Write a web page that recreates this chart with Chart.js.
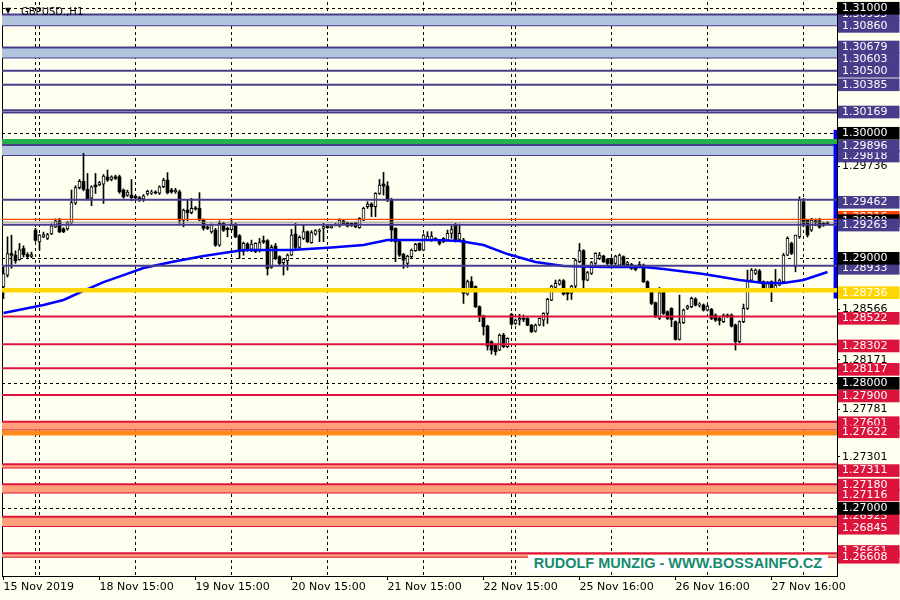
<!DOCTYPE html>
<html>
<head>
<meta charset="utf-8">
<script src="https://cdn.jsdelivr.net/npm/chart.js@4.4.0/dist/chart.umd.min.js"></script>
<style>
  body { margin: 0; background: #fffff0; }
  #wrap { position: relative; width: 900px; height: 600px; }
  #tri { position: absolute; left: 5px; top: 6px; font: 8px "DejaVu Sans"; color: #000; }
  #title { position: absolute; left: 21px; top: 6px; font: 10px "DejaVu Sans"; color: #000; }
  #mark { position: absolute; left: 528px; top: 555px; width: 300px; height: 17px; background: #fff;
          color: #168c6c; font: bold 14.5px "Liberation Sans"; text-align: center; line-height: 17px; }
</style>
</head>
<body>
<div id="wrap">
  <canvas id="chart" width="900" height="600"></canvas>
  <div id="tri">▼</div>
  <div id="title">GBPUSD.,H1</div>
  <div id="mark">RUDOLF MUNZIG - WWW.BOSSAINFO.CZ</div>
</div>
<script>
// H1 candles, bar 0 .. 206
const opens = [
  1.28771,1.28865,1.29038,1.29025,1.28990,1.29078,1.29030,1.29015,1.29225,1.29132,
  1.29172,1.29160,1.29195,1.29250,1.29300,1.29235,1.29235,1.29285,1.29440,1.29565,
  1.29615,1.29552,1.29480,1.29586,1.29586,1.29592,1.29650,1.29630,1.29652,1.29652,
  1.29546,1.29505,1.29505,1.29495,1.29485,1.29475,1.29515,1.29520,1.29530,1.29520,
  1.29572,1.29626,1.29546,1.29530,1.29532,1.29306,1.29386,1.29365,1.29400,1.29400,
  1.29306,1.29250,1.29212,1.29225,1.29105,1.29279,1.29240,1.29230,1.29270,1.29180,
  1.29055,1.29115,1.29071,1.29053,1.29060,1.29141,1.29141,1.28927,1.29098,1.29013,
  1.28965,1.28981,1.29026,1.29194,1.29087,1.29159,1.29213,1.29125,1.29194,1.29215,
  1.29239,1.29258,1.29245,1.29262,1.29258,1.29298,1.29285,1.29261,1.29285,1.29245,
  1.29306,1.29413,1.29434,1.29413,1.29519,1.29594,1.29578,1.29471,1.29239,1.29133,
  1.29031,1.28959,1.29013,1.29061,1.29119,1.29066,1.29146,1.29141,1.29159,1.29133,
  1.29133,1.29146,1.29199,1.29266,1.29151,1.29146,1.28714,1.28813,1.28773,1.28613,
  1.28538,1.28458,1.28333,1.28306,1.28266,1.28386,1.28293,1.28551,1.28479,1.28506,
  1.28519,1.28519,1.28466,1.28418,1.28466,1.28506,1.28559,1.28666,1.28767,1.28794,
  1.28821,1.28741,1.28719,1.28778,1.28973,1.29061,1.28826,1.28879,1.28959,1.28999,
  1.29018,1.28991,1.28999,1.28959,1.28946,1.29013,1.28949,1.28951,1.28938,1.28933,
  1.28946,1.28813,1.28751,1.28645,1.28519,1.28733,1.28573,1.28599,1.28493,1.28351,
  1.28485,1.28599,1.28613,1.28674,1.28626,1.28626,1.28586,1.28591,1.28546,1.28519,
  1.28493,1.28546,1.28546,1.28466,1.28333,1.28493,1.28599,1.28826,1.28879,1.28898,
  1.28813,1.28746,1.28813,1.28751,1.28786,1.28813,1.29026,1.29119,1.28932,1.29172,
  1.29452,1.29306,1.29225,1.29300,1.29300,1.29280,1.29285
];
const highs = [
  1.28932,1.29172,1.29185,1.29060,1.29119,1.29100,1.29045,1.29050,1.29240,1.29190,
  1.29210,1.29200,1.29275,1.29315,1.29320,1.29245,1.29295,1.29546,1.29580,1.29630,
  1.29839,1.29679,1.29580,1.29679,1.29615,1.29670,1.29706,1.29660,1.29665,1.29665,
  1.29555,1.29545,1.29630,1.29505,1.29495,1.29510,1.29545,1.29545,1.29540,1.29580,
  1.29640,1.29685,1.29560,1.29560,1.29545,1.29395,1.29466,1.29480,1.29415,1.29525,
  1.29315,1.29260,1.29275,1.29240,1.29300,1.29290,1.29250,1.29306,1.29280,1.29190,
  1.29130,1.29125,1.29146,1.29125,1.29159,1.29178,1.29150,1.29106,1.29119,1.29020,
  1.29000,1.29035,1.29231,1.29279,1.29180,1.29266,1.29220,1.29221,1.29230,1.29235,
  1.29279,1.29265,1.29265,1.29279,1.29315,1.29310,1.29290,1.29285,1.29290,1.29325,
  1.29410,1.29453,1.29445,1.29525,1.29631,1.29687,1.29613,1.29480,1.29245,1.29140,
  1.29040,1.29025,1.29075,1.29120,1.29125,1.29195,1.29213,1.29213,1.29165,1.29140,
  1.29165,1.29226,1.29260,1.29279,1.29274,1.29160,1.28826,1.28853,1.28780,1.28620,
  1.28545,1.28465,1.28340,1.28315,1.28395,1.28400,1.28365,1.28560,1.28515,1.28553,
  1.28546,1.28525,1.28470,1.28475,1.28525,1.28565,1.28680,1.28785,1.28826,1.28830,
  1.28830,1.28750,1.28785,1.28995,1.29119,1.29070,1.28895,1.28975,1.29045,1.29047,
  1.29025,1.29000,1.29005,1.29025,1.29035,1.29020,1.28975,1.28960,1.28945,1.28973,
  1.28955,1.28820,1.28760,1.28650,1.28767,1.28740,1.28580,1.28605,1.28500,1.28706,
  1.28595,1.28625,1.28690,1.28685,1.28645,1.28635,1.28625,1.28600,1.28555,1.28528,
  1.28555,1.28555,1.28555,1.28475,1.28500,1.28634,1.28906,1.28919,1.28915,1.28911,
  1.28820,1.28815,1.28820,1.28911,1.28835,1.29039,1.29172,1.29130,1.29186,1.29492,
  1.29479,1.29310,1.29320,1.29315,1.29320,1.29290,1.29295
];
const lows = [
  1.28678,1.28850,1.28920,1.28960,1.28985,1.29010,1.29000,1.29005,1.29135,1.29065,
  1.29165,1.29150,1.29190,1.29245,1.29205,1.29205,1.29225,1.29280,1.29430,1.29555,
  1.29540,1.29466,1.29420,1.29519,1.29580,1.29439,1.29615,1.29620,1.29630,1.29520,
  1.29480,1.29495,1.29460,1.29475,1.29455,1.29455,1.29505,1.29510,1.29515,1.29510,
  1.29565,1.29515,1.29520,1.29520,1.29279,1.29252,1.29300,1.29355,1.29385,1.29300,
  1.29225,1.29230,1.29200,1.29095,1.29095,1.29215,1.29172,1.29225,1.29165,1.28998,
  1.29025,1.29055,1.29053,1.29045,1.29050,1.29119,1.28866,1.28920,1.28990,1.28950,
  1.28866,1.28906,1.29020,1.29066,1.29080,1.29150,1.29125,1.29120,1.29185,1.29133,
  1.29133,1.29240,1.29240,1.29258,1.29250,1.29270,1.29250,1.29255,1.29245,1.29240,
  1.29300,1.29399,1.29333,1.29333,1.29510,1.29506,1.29453,1.29133,1.28973,1.29015,
  1.28919,1.28927,1.29005,1.29055,1.29060,1.29060,1.29140,1.29135,1.29140,1.29106,
  1.29125,1.29140,1.29160,1.29130,1.29140,1.28639,1.28705,1.28760,1.28605,1.28493,
  1.28386,1.28266,1.28234,1.28226,1.28261,1.28285,1.28285,1.28465,1.28470,1.28466,
  1.28493,1.28460,1.28405,1.28410,1.28460,1.28458,1.28479,1.28660,1.28760,1.28785,
  1.28705,1.28666,1.28671,1.28759,1.28965,1.28759,1.28820,1.28870,1.28950,1.28990,
  1.28965,1.28950,1.28945,1.28950,1.28933,1.28940,1.28940,1.28910,1.28900,1.28925,
  1.28805,1.28735,1.28630,1.28525,1.28510,1.28550,1.28510,1.28453,1.28346,1.28345,
  1.28478,1.28590,1.28605,1.28618,1.28610,1.28578,1.28578,1.28510,1.28495,1.28466,
  1.28485,1.28525,1.28450,1.28266,1.28325,1.28485,1.28590,1.28820,1.28870,1.28805,
  1.28740,1.28740,1.28653,1.28745,1.28780,1.28800,1.29020,1.29030,1.28892,1.29160,
  1.29252,1.29170,1.29215,1.29260,1.29240,1.29255,1.29270
];
const closes = [
  1.28878,1.29038,1.29025,1.28980,1.29070,1.29030,1.29015,1.29030,1.29145,1.29185,
  1.29190,1.29190,1.29260,1.29300,1.29212,1.29212,1.29285,1.29445,1.29565,1.29615,
  1.29552,1.29472,1.29572,1.29572,1.29605,1.29658,1.29626,1.29652,1.29640,1.29532,
  1.29492,1.29530,1.29485,1.29485,1.29470,1.29500,1.29535,1.29530,1.29522,1.29572,
  1.29626,1.29525,1.29532,1.29546,1.29306,1.29386,1.29365,1.29400,1.29395,1.29306,
  1.29240,1.29240,1.29265,1.29105,1.29279,1.29225,1.29230,1.29265,1.29172,1.29065,
  1.29119,1.29065,1.29114,1.29119,1.29125,1.29130,1.28919,1.29087,1.28999,1.28959,
  1.28994,1.29026,1.29186,1.29087,1.29167,1.29213,1.29133,1.29205,1.29221,1.29226,
  1.29253,1.29245,1.29258,1.29269,1.29306,1.29279,1.29258,1.29279,1.29253,1.29319,
  1.29399,1.29434,1.29413,1.29519,1.29586,1.29578,1.29471,1.29226,1.29133,1.29026,
  1.28986,1.29018,1.29066,1.29111,1.29066,1.29186,1.29178,1.29178,1.29146,1.29119,
  1.29159,1.29199,1.29230,1.29146,1.29199,1.28719,1.28813,1.28767,1.28613,1.28533,
  1.28453,1.28298,1.28266,1.28253,1.28386,1.28293,1.28359,1.28474,1.28506,1.28519,
  1.28512,1.28466,1.28413,1.28466,1.28519,1.28559,1.28671,1.28778,1.28799,1.28821,
  1.28714,1.28714,1.28778,1.28986,1.29061,1.28826,1.28885,1.28965,1.29039,1.29026,
  1.28973,1.28959,1.28954,1.29018,1.29026,1.28946,1.28965,1.28919,1.28911,1.28951,
  1.28813,1.28741,1.28639,1.28533,1.28725,1.28559,1.28519,1.28511,1.28351,1.28485,
  1.28586,1.28618,1.28679,1.28626,1.28634,1.28586,1.28618,1.28519,1.28506,1.28501,
  1.28546,1.28533,1.28458,1.28333,1.28493,1.28599,1.28826,1.28906,1.28906,1.28813,
  1.28746,1.28805,1.28746,1.28786,1.28826,1.29026,1.29159,1.29039,1.29186,1.29466,
  1.29279,1.29186,1.29306,1.29285,1.29250,1.29270,1.29278
];

// moving average, read at a few bars
const maBars = [0, 10, 15, 20, 25, 30, 35, 42, 50, 60, 72, 82, 90, 96, 108, 114, 120, 126, 133, 140, 150, 160, 165, 175, 184, 190, 195, 200, 206];
const maValues = [1.28563, 1.28627, 1.28667, 1.28739, 1.28810, 1.28866, 1.28922, 1.28970, 1.29018, 1.29066,
  1.29066, 1.29086, 1.29106, 1.29146, 1.29146, 1.29138, 1.29106, 1.29034, 1.28970, 1.28938,
  1.28930, 1.28930, 1.28914, 1.28874, 1.28826, 1.28802, 1.28802, 1.28826, 1.28890];

// time axis
const dateTickBars = [0, 24, 48, 72, 96, 120, 144, 168, 192];
const dateLabels = ['15 Nov 2019', '18 Nov 15:00', '19 Nov 15:00', '20 Nov 15:00', '21 Nov 15:00',
  '22 Nov 15:00', '25 Nov 16:00', '26 Nov 16:00', '27 Nov 16:00'];
const separatorBars = [8, 9, 33, 57, 81, 105, 127, 128, 152, 176, 200];

// price levels
const roundLevels = [1.31, 1.30, 1.29, 1.28, 1.27];
const blueZones = [[1.30950, 1.30865], [1.30686, 1.30606], [1.29906, 1.29826]];
const blueLines = [1.30501, 1.30389, 1.30184, 1.30167, 1.29468, 1.29268, 1.28941];
const redZones = [[1.27693, 1.27631], [1.27353, 1.27326], [1.27193, 1.27126], [1.26933, 1.26859], [1.26640, 1.26612]];
const redLines = [1.28535, 1.28312, 1.28120, 1.27907];
const greenLevel = 1.29934;
const yellowLevel = 1.28745;
const greyLevel = 1.29289;
const thinOrangeLevel = 1.29312;
const darkOrangeLevel = 1.27603;
const rangeLow = 1.28682, rangeHigh = 1.30025;

// right-hand price labels, in drawing order
const priceLabels = [
  '1.29736', '1.28566', '1.28171', '1.27781', '1.27301',
  '1.30935', '1.30860', '1.30679', '1.30603', '1.30500', '1.30385', '1.30169',
  '1.29818', '1.29896', '1.29462', '1.29316', '1.29300', '1.29263', '1.28933', '1.28736',
  '1.28522', '1.28302', '1.28117', '1.27900', '1.27601', '1.27622', '1.27311',
  '1.27180', '1.27116', '1.26925', '1.26845', '1.26661', '1.26608',
  '1.31000', '1.30000', '1.29000', '1.28000', '1.27000'
];
const priceLabelPos = [
  1.29738, 1.28590, 1.28187, 1.27792, 1.27413,
  1.30949, 1.30855, 1.30690, 1.30596, 1.30496, 1.30388, 1.30170,
  1.29818, 1.29898, 1.29448, 1.29328, 1.29301, 1.29266, 1.28920, 1.28725,
  1.28520, 1.28299, 1.28112, 1.27899, 1.27685, 1.27613, 1.27302,
  1.27187, 1.27107, 1.26934, 1.26841, 1.26655, 1.26609,
  1.31000, 1.30000, 1.29000, 1.28000, 1.27000
];
const priceLabelKind = [
  'plain', 'plain', 'plain', 'plain', 'plain',
  'slate', 'slate', 'slate', 'slate', 'slate', 'slate', 'slate',
  'slate', 'slate', 'slate', 'orange', 'black', 'slate', 'slate', 'gold',
  'red', 'red', 'red', 'red', 'red', 'red', 'red',
  'red', 'red', 'red', 'red', 'red', 'red',
  'black', 'black', 'black', 'black', 'black'
];

// colours
const SLATE = '#483d8b', CRIMSON = '#dc143c', STEEL = '#b0c4de', SALMON = '#ffa07a';
const kindColors = {
  plain: { bg: 'rgba(0,0,0,0)', fg: '#000' },
  slate: { bg: SLATE, fg: '#fff' },
  red: { bg: CRIMSON, fg: '#fff' },
  black: { bg: '#000', fg: '#fff' },
  gold: { bg: '#ffd700', fg: '#fff' },
  orange: { bg: '#ff4500', fg: '#fff' }
};

const X0 = -0.375, X1 = 208.375;

// helpers for horizontal levels
const hline = (p, color, width) => ({
  type: 'line', data: [{ x: X0, y: p }, { x: X1, y: p }],
  borderColor: color, borderWidth: width, pointRadius: 0, fill: false, order: 0
});
const zone = (top, bottom, fillColor, edgeColor) => [
  { type: 'line', data: [{ x: X0, y: top }, { x: X1, y: top }], borderColor: edgeColor, borderWidth: 2,
    pointRadius: 0, fill: { value: bottom }, backgroundColor: fillColor, order: 5 },
  Object.assign(hline(bottom, edgeColor, 2), { order: 5 })
];

const idx = opens.map((_, i) => i);
const wickData = idx.map(i => ({ x: i, y: [lows[i], highs[i]] }));
const upData = idx.filter(i => closes[i] >= opens[i]).map(i => ({ x: i, y: [opens[i], closes[i]] }));
const downData = idx.filter(i => closes[i] < opens[i]).map(i => ({ x: i, y: [opens[i], closes[i]] }));

const barBase = { type: 'bar', grouped: false, barPercentage: 1, categoryPercentage: 1 };

let datasets = [];
blueZones.forEach(z => datasets = datasets.concat(zone(z[0], z[1], STEEL, SLATE)));
redZones.forEach(z => datasets = datasets.concat(zone(z[0], z[1], SALMON, CRIMSON)));
datasets.push(hline(greenLevel, '#22b14c', 5));
datasets.push(hline(yellowLevel, '#ffd700', 4.5));
datasets.push(hline(darkOrangeLevel, '#ff8c1a', 5));
datasets.push(hline(greyLevel, '#909090', 1));
datasets.push(hline(thinOrangeLevel, '#ff4500', 1.2));
blueLines.forEach(p => datasets.push(hline(p, SLATE, 2)));
redLines.forEach(p => datasets.push(hline(p, CRIMSON, 2)));
datasets.push(Object.assign({}, barBase, {
  data: [{ x: X1 - 0.4, y: [rangeLow, rangeHigh] }], backgroundColor: '#0000ff', maxBarThickness: 3, order: 0
}));
datasets.push({
  type: 'line', data: maBars.map((b, i) => ({ x: b, y: maValues[i] })),
  borderColor: '#0000ff', borderWidth: 2.5, pointRadius: 0, tension: 0, fill: false, order: 1
});
datasets.push(Object.assign({}, barBase, {
  data: upData, backgroundColor: '#fff', borderColor: '#000', borderWidth: 1, borderSkipped: false,
  maxBarThickness: 3, minBarLength: 1, order: 2
}));
datasets.push(Object.assign({}, barBase, {
  data: downData, backgroundColor: '#000', borderWidth: 0, maxBarThickness: 3, minBarLength: 1, order: 2
}));
datasets.push(Object.assign({}, barBase, {
  data: wickData, backgroundColor: '#000', borderWidth: 0, maxBarThickness: 1, order: 3
}));

const isRound = v => roundLevels.some(r => Math.abs(r - v) < 1e-7);

new Chart(document.getElementById('chart'), {
  type: 'bar',
  data: { datasets },
  options: {
    responsive: false,
    animation: false,
    layout: { padding: { left: 2, top: 2, right: 0, bottom: 0 } },
    plugins: { legend: { display: false }, tooltip: { enabled: false } },
    scales: {
      x: {
        type: 'linear', position: 'bottom', min: X0, max: X1, offset: false,
        afterBuildTicks: a => { a.ticks = dateTickBars.map(v => ({ value: v })); },
        afterFit: a => { a.height = 24; a.paddingLeft = 0; a.paddingRight = 0; },
        ticks: {
          autoSkip: false, maxRotation: 0, align: 'start', padding: 1, color: '#000',
          font: { family: 'DejaVu Sans', size: 11 },
          callback: (v, i) => dateLabels[i]
        },
        grid: { drawOnChartArea: false, drawTicks: true, tickLength: 4, tickColor: '#000', offset: false },
        border: { display: true, color: '#000', width: 1 }
      },
      xg: {
        type: 'linear', position: 'top', min: X0, max: X1, offset: false,
        afterBuildTicks: a => { a.ticks = separatorBars.map(v => ({ value: v })); },
        afterFit: a => { a.height = 0; a.paddingLeft = 0; a.paddingRight = 0; },
        ticks: { display: false },
        grid: { drawOnChartArea: true, drawTicks: false, color: '#000', lineWidth: 1, offset: false },
        border: { display: false, dash: [3, 3] }
      },
      y: {
        type: 'linear', position: 'right', min: 1.26459, max: 1.31050, beginAtZero: false, stacked: false,
        afterBuildTicks: a => { a.ticks = priceLabelPos.map(v => ({ value: v })); },
        afterFit: a => { a.width = 63; a.paddingTop = 0; a.paddingBottom = 0; },
        ticks: {
          autoSkip: false, padding: 2, showLabelBackdrop: true,
          backdropPadding: { top: 0, bottom: 0, left: 4, right: 12 },
          backdropColor: c => kindColors[priceLabelKind[c.index]].bg,
          color: c => kindColors[priceLabelKind[c.index]].fg,
          font: { family: 'DejaVu Sans', size: 11, lineHeight: 1.15 },
          callback: (v, i) => priceLabels[i]
        },
        grid: {
          drawOnChartArea: true, lineWidth: 1,
          color: c => (c.tick && isRound(c.tick.value)) ? '#000' : 'rgba(0,0,0,0)',
          drawTicks: true, tickLength: 3,
          tickColor: c => priceLabelKind[c.index] === 'plain' ? '#000' : 'rgba(0,0,0,0)'
        },
        border: { display: true, color: '#000', width: 1, dash: [3, 3] }
      },
      yl: {
        type: 'linear', position: 'left', min: 0, max: 1, beginAtZero: false,
        afterFit: a => { a.width = 0; a.paddingTop = 0; a.paddingBottom = 0; },
        ticks: { display: false },
        grid: { drawOnChartArea: false, drawTicks: false },
        border: { display: true, color: '#000', width: 1 }
      }
    }
  }
});
</script>
</body>
</html>
